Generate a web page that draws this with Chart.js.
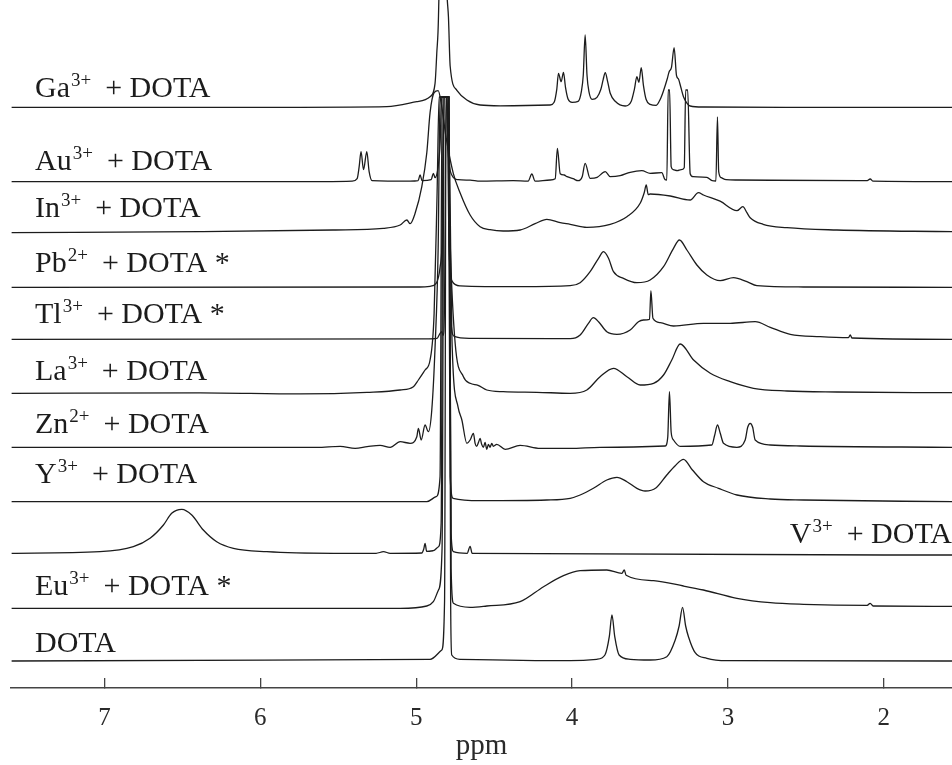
<!DOCTYPE html>
<html>
<head>
<meta charset="utf-8">
<script src="https://cdn.jsdelivr.net/npm/chart.js@4.4.1/dist/chart.umd.min.js"></script>
<style>
  html, body { margin: 0; padding: 0; background: #fff; }
  #wrap { width: 952px; height: 765px; }
</style>
</head>
<body>
<div id="wrap"><canvas id="nmr" width="952" height="765"></canvas></div>
<script>
(function () {
  "use strict";

  // x axis ticks (ppm)
  const TICKS = [7, 6, 5, 4, 3, 2];

  // label parts: metal, charge, rest
  const LABELS = [
    ["Ga", "3+", "+ DOTA"],
    ["Au", "3+", "+ DOTA"],
    ["In", "3+", "+ DOTA"],
    ["Pb", "2+", "+ DOTA *"],
    ["Tl", "3+", "+ DOTA *"],
    ["La", "3+", "+ DOTA"],
    ["Zn", "2+", "+ DOTA"],
    ["Y", "3+", "+ DOTA"],
    ["V", "3+", "+ DOTA"],
    ["Eu", "3+", "+ DOTA *"],
    ["DOTA", "", ""]
  ];

  // spectra: [ppm, intensity above own baseline]
  const ga = [
    [7.596, 0], [5.745, 0], [5.189, 0.6], [4.996, 5.6], [4.911, 10.6], [4.879, 24], [4.868, 54],
    [4.857, 91], [4.847, 200], [4.831, 700], [4.814, 200], [4.804, 120], [4.793, 90], [4.782, 41],
    [4.739, 17], [4.675, 7.3], [4.590, 2.3], [4.462, 1.5], [4.141, 2.3], [4.115, 5], [4.098, 18],
    [4.087, 34], [4.070, 25.6], [4.055, 35], [4.042, 20], [4.025, 8], [4.000, 5], [3.961, 6],
    [3.940, 16], [3.928, 32], [3.916, 72.3], [3.904, 32], [3.892, 16], [3.871, 8], [3.840, 10],
    [3.815, 18], [3.800, 28], [3.787, 34.6], [3.772, 26], [3.755, 14], [3.723, 6], [3.659, 1.3],
    [3.620, 6], [3.600, 18], [3.584, 30.6], [3.571, 25], [3.556, 39.6], [3.542, 22], [3.525, 8],
    [3.499, 3], [3.460, 2], [3.434, 8], [3.413, 16.6], [3.390, 28], [3.377, 35.6], [3.362, 40],
    [3.345, 59.6], [3.330, 32], [3.317, 28.3], [3.302, 20], [3.285, 10.6], [3.262, 4], [3.242, 1.3],
    [3.157, 0.3], [2.536, 0], [1.560, 0]
  ];
  const au = [
    [7.596, 0], [5.745, 0], [5.411, 0.5], [5.379, 3], [5.366, 15], [5.354, 30], [5.338, 12],
    [5.317, 30], [5.302, 10], [5.283, 1], [5.039, 0.5], [4.988, 1], [4.975, 6.7], [4.962, 1],
    [4.904, 2], [4.890, 8.4], [4.879, 4], [4.859, 15], [4.846, 40], [4.837, 84.7], [4.808, 84.7],
    [4.795, 30], [4.769, 6], [4.731, 2], [4.654, 1.5], [4.590, 0.5], [4.378, 1], [4.282, 0.5],
    [4.258, 7.7], [4.237, 0.5], [4.141, 1.7], [4.108, 3], [4.094, 33.4], [4.076, 8], [4.051, 6.7],
    [4.032, 5], [3.993, 3], [3.961, 1], [3.935, 5], [3.916, 18.4], [3.884, 3.4], [3.839, 4.4],
    [3.787, 10], [3.755, 5], [3.691, 6], [3.627, 9.4], [3.552, 11], [3.499, 8.4], [3.424, 9],
    [3.403, 2], [3.392, 1.7], [3.383, 91.7], [3.374, 91.7], [3.364, 15], [3.351, 12], [3.325, 11],
    [3.300, 12], [3.280, 14], [3.271, 91.7], [3.258, 91.7], [3.242, 8], [3.223, 5], [3.135, 4.4],
    [3.101, 1], [3.077, 0.7], [3.067, 64.7], [3.059, 10], [3.043, 4], [3.011, 2], [2.942, 1.7],
    [2.151, 1], [2.106, 1], [2.087, 2.7], [2.068, 0.5], [1.560, 0]
  ];
  const inn = [
    [7.596, 0], [6.387, 1], [5.533, 2.7], [5.212, 4.4], [5.103, 7.7], [5.060, 12.7], [5.039, 9],
    [5.007, 19.4], [4.964, 46], [4.932, 80], [4.911, 120], [4.885, 140], [4.859, 142], [4.840, 130],
    [4.808, 95], [4.762, 59.4], [4.718, 39.7], [4.654, 17.7], [4.590, 6], [4.526, 3], [4.442, 1.7],
    [4.333, 2.7], [4.237, 9], [4.162, 13.4], [4.076, 10], [4.012, 8.4], [3.905, 5.4], [3.755, 8.4],
    [3.648, 16], [3.563, 29.4], [3.537, 40], [3.524, 47.7], [3.511, 38], [3.499, 38.7], [3.370, 36.7],
    [3.242, 32.7], [3.189, 40], [3.157, 37.7], [3.050, 31.5], [2.942, 22], [2.904, 26], [2.878, 20],
    [2.857, 15], [2.774, 8.4], [2.621, 5], [2.300, 2.7], [1.562, 1]
  ];
  const pb = [
    [7.596, 0], [4.975, 0.3], [4.911, 1], [4.872, 4], [4.847, 20], [4.831, 60], [4.821, 190.3],
    [4.802, 190.3], [4.789, 40], [4.769, 6], [4.718, 1.5], [4.333, 0.6], [4.012, 1.6], [3.948, 4.6],
    [3.884, 15.6], [3.830, 29], [3.798, 35.6], [3.766, 29], [3.734, 15.6], [3.670, 9], [3.584, 4.6],
    [3.499, 7.3], [3.413, 20.6], [3.349, 39], [3.311, 47.3], [3.263, 37.3], [3.199, 22.3],
    [3.135, 12.3], [3.049, 6.6], [2.964, 9.6], [2.878, 5.6], [2.814, 1.6], [2.515, 0.3], [1.560, 0]
  ];
  const tl = [
    [7.596, 0], [4.943, 0.5], [4.866, 1], [4.847, 6], [4.836, 7.6], [4.827, 4], [4.818, 40],
    [4.808, 242.3], [4.795, 242.3], [4.782, 30], [4.757, 3], [4.654, 1], [4.012, 0.6], [3.948, 4.3],
    [3.895, 16], [3.863, 21.6], [3.830, 17.6], [3.777, 7.6], [3.712, 5], [3.627, 9.3], [3.574, 17.6],
    [3.542, 19.3], [3.503, 20], [3.494, 48.6], [3.481, 21], [3.434, 16.6], [3.349, 13.3],
    [3.157, 16], [2.985, 16], [2.825, 17.6], [2.728, 12], [2.600, 5], [2.408, 2.6], [2.226, 1.6],
    [2.215, 4.3], [2.204, 1.3], [1.560, 0]
  ];
  const la = [
    [7.596, 0], [6.387, 0.5], [5.745, -0.5], [5.315, 1], [5.103, 3.3], [5.018, 6.6], [4.986, 13.3],
    [4.943, 23.3], [4.911, 33.3], [4.885, 80], [4.866, 200], [4.853, 296.3], [4.802, 296.3],
    [4.782, 150], [4.750, 50], [4.697, 16.6], [4.654, 10], [4.603, 8], [4.547, 3.3], [4.442, 1.6],
    [4.226, 1], [4.012, 0], [3.905, 3.3], [3.820, 16.6], [3.734, 25], [3.648, 16.6], [3.563, 8.3],
    [3.477, 10], [3.413, 18.3], [3.360, 33.3], [3.306, 49.3], [3.220, 33.3], [3.113, 20],
    [2.985, 11.6], [2.836, 5], [2.621, 2.3], [2.300, 1.3], [1.560, 0.6]
  ];
  const zn = [
    [7.596, 0], [5.636, 0], [5.488, 1], [5.392, -1], [5.315, 0.6], [5.232, 2], [5.167, 0],
    [5.103, 5.6], [5.039, 4], [4.996, 10.6], [4.986, 19], [4.968, 7.3], [4.943, 22.3], [4.922, 15.6],
    [4.900, 37.3], [4.879, 100], [4.859, 200], [4.847, 350.3], [4.795, 350.3], [4.769, 100],
    [4.731, 40], [4.707, 27.3], [4.675, 4], [4.654, 7.3], [4.633, 14], [4.622, 4], [4.612, 1],
    [4.600, 5], [4.590, 9], [4.580, 3], [4.569, 0], [4.558, 5], [4.547, -2], [4.537, 3],
    [4.526, 0], [4.515, 4], [4.505, 1], [4.483, 3], [4.429, -2], [4.333, 2], [4.205, -1],
    [4.012, -1], [3.820, 0], [3.402, 1.3], [3.386, 10], [3.375, 55.6], [3.364, 15], [3.349, 7.3],
    [3.306, 1], [3.103, 2.3], [3.085, 12], [3.067, 22.3], [3.049, 14], [3.028, 4], [2.942, 0],
    [2.889, 7.3], [2.873, 20], [2.857, 24], [2.841, 20], [2.825, 7.3], [2.728, 2.3], [2.536, 1.3],
    [1.560, 0]
  ];
  const yy = [
    [7.596, 0], [4.932, 0], [4.872, 5], [4.847, 25], [4.834, 404.7], [4.795, 404.7], [4.782, 25],
    [4.763, 3.4], [4.590, 1], [4.162, 1.7], [4.012, 3.4], [3.948, 6.7], [3.863, 13.4], [3.777, 21.7],
    [3.712, 24.4], [3.648, 20], [3.584, 13.4], [3.531, 10.7], [3.460, 14], [3.392, 26.7], [3.338, 36],
    [3.285, 42.4], [3.229, 32], [3.157, 20], [3.060, 13.4], [2.942, 6.7], [2.728, 2.7], [2.515, 1.7],
    [1.560, 0]
  ];
  const vv = [
    [7.596, 0], [7.029, 1.6], [6.815, 6.6], [6.708, 15], [6.622, 28.3], [6.569, 40], [6.504, 44],
    [6.440, 38.3], [6.366, 23.3], [6.280, 11.6], [6.173, 5], [5.959, 1.6], [5.531, 0], [5.257, 0],
    [5.210, 1.6], [5.167, 0], [4.964, 0.3], [4.952, 4], [4.943, 10], [4.933, 2], [4.890, 2.6],
    [4.857, 6.6], [4.840, 30], [4.827, 456.3], [4.792, 456.3], [4.776, 20], [4.761, 1.6], [4.673, 0],
    [4.654, 7], [4.641, 0], [1.560, -1.7]
  ];
  const eu = [
    [7.596, 0], [5.103, 0], [4.932, 2.3], [4.890, 6.6], [4.857, 18.3], [4.834, 60], [4.821, 511.3],
    [4.789, 511.3], [4.776, 40], [4.761, 5], [4.654, 1], [4.547, 2.3], [4.333, 6.6], [4.183, 21.6],
    [4.055, 32.6], [3.948, 37.6], [3.777, 38.3], [3.680, 35], [3.665, 38.3], [3.653, 33],
    [3.477, 27.6], [3.285, 22.3], [3.157, 18.3], [2.942, 10], [2.728, 5.6], [2.515, 4], [2.106, 3],
    [2.087, 5], [2.068, 2.3], [1.560, 2]
  ];
  const dota = [
    [7.596, 0], [4.911, 1.7], [4.836, 11], [4.818, 60], [4.808, 564], [4.789, 564], [4.779, 60],
    [4.772, 6], [4.718, 1.7], [4.012, 0.3], [3.842, 1.7], [3.789, 6], [3.761, 24.3], [3.744, 46],
    [3.726, 24.3], [3.698, 6], [3.627, 1.7], [3.499, 1], [3.392, 4.3], [3.338, 21], [3.313, 35],
    [3.291, 53.7], [3.271, 35], [3.253, 24.3], [3.210, 8.3], [3.135, 2.7], [3.006, 0.3], [1.560, 0]
  ];

  const SPECTRA = [ga, au, inn, pb, tl, la, zn, yy, vv, eu, dota];

  // layout: baseline of each trace and its label (y scale runs 0..688 bottom to top)
  const Y_TOP = 688;
  const BASE_PX = [107.3, 181.7, 232.7, 287.3, 339.3, 393.3, 447.3, 501.7, 553.3, 608.3, 661];
  const LABEL_PX = [97, 170, 216.7, 271.7, 323, 380, 433, 483, 543, 595, 651.7];
  const FONT = '"Liberation Serif", "Times New Roman", serif';
  const INK = "#1c1c1c";

  const datasets = SPECTRA.map((pts, i) => ({
    data: pts.map(([x, v]) => ({ x, y: Y_TOP - BASE_PX[i] + v })),
    borderColor: INK,
    borderWidth: 1.3,
    pointRadius: 0,
    fill: false,
    cubicInterpolationMode: "monotone"
  }));

  const labelPlugin = {
    id: "traceLabels",
    afterDatasetsDraw(chart) {
      const ctx = chart.ctx;
      const big = "30px " + FONT;
      const small = "19px " + FONT;
      ctx.save();
      ctx.fillStyle = INK;
      ctx.textBaseline = "alphabetic";
      LABELS.forEach(([main, sup, rest], i) => {
        ctx.font = big;
        const w1 = ctx.measureText(main).width;
        const w3 = ctx.measureText(rest).width;
        ctx.font = small;
        const w2 = sup ? ctx.measureText(sup).width + 1 : 0;
        const gap = rest ? 14 : 0;
        const y = LABEL_PX[i];
        let x = 35;
        if (main === "V") x = chart.width - (w1 + w2 + gap + w3);
        ctx.font = big;
        ctx.fillText(main, x, y);
        if (sup) {
          ctx.font = small;
          ctx.fillText(sup, x + w1 + 1, y - 11);
        }
        ctx.font = big;
        ctx.fillText(rest, x + w1 + w2 + gap, y);
      });
      ctx.restore();
    }
  };

  new Chart(document.getElementById("nmr"), {
    type: "line",
    data: { datasets },
    plugins: [labelPlugin],
    options: {
      responsive: false,
      animation: false,
      layout: { padding: { left: 11, right: 0, top: 0, bottom: 0 } },
      plugins: { legend: { display: false }, tooltip: { enabled: false } },
      scales: {
        x: {
          type: "linear",
          reverse: true,
          min: 1.562,
          max: 7.6,
          afterBuildTicks: (s) => { s.ticks = TICKS.map((v) => ({ value: v })); },
          afterFit: (s) => { s.height = 77; },
          grid: { display: true, drawOnChartArea: false, drawTicks: true, tickLength: -10, color: "#444", lineWidth: 1.3 },
          border: { display: true, color: "#444", width: 1.5 },
          ticks: { padding: 25, color: "#2a2a2a", font: { family: FONT, size: 25 }, callback: (v) => String(v) },
          title: { display: true, text: "ppm", color: "#2a2a2a", font: { family: FONT, size: 29 }, padding: { top: 0, bottom: 1 } }
        },
        y: { display: false, min: 0, max: Y_TOP }
      }
    }
  });
})();
</script>
</body>
</html>
